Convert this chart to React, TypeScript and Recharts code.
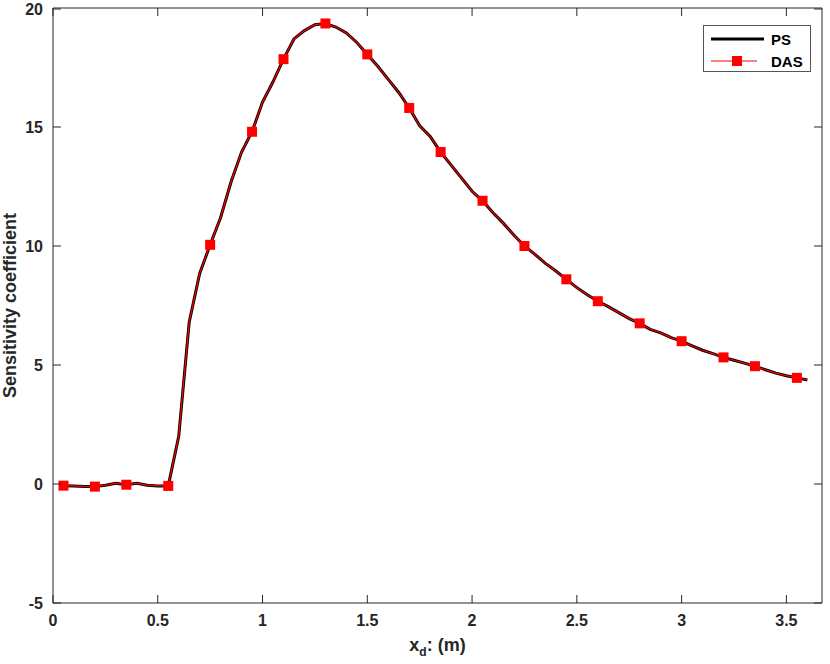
import { LineChart, Line, XAxis, YAxis, Legend } from 'recharts';

// x_d positions (m), sampled every 0.05
const XD = [
  0.05, 0.1, 0.15, 0.2, 0.25, 0.3, 0.35, 0.4, 0.45, 0.5,
  0.55, 0.6, 0.65, 0.7, 0.75, 0.8, 0.85, 0.9, 0.95, 1.0,
  1.05, 1.1, 1.15, 1.2, 1.25, 1.3, 1.35, 1.4, 1.45, 1.5,
  1.55, 1.6, 1.65, 1.7, 1.75, 1.8, 1.85, 1.9, 1.95, 2.0,
  2.05, 2.1, 2.15, 2.2, 2.25, 2.3, 2.35, 2.4, 2.45, 2.5,
  2.55, 2.6, 2.65, 2.7, 2.75, 2.8, 2.85, 2.9, 2.95, 3.0,
  3.05, 3.1, 3.15, 3.2, 3.25, 3.3, 3.35, 3.4, 3.45, 3.5,
  3.55, 3.6,
];

const PS = [
  -0.07, -0.08, -0.1, -0.11, -0.05, 0.03, -0.03, 0.03, -0.05, -0.08,
  -0.08, 2.0, 6.8, 8.85, 10.05, 11.2, 12.7, 13.95, 14.8, 16.05,
  16.9, 17.85, 18.7, 19.05, 19.3, 19.35, 19.2, 18.95, 18.55, 18.05,
  17.55, 17.0, 16.45, 15.8, 15.05, 14.6, 13.95, 13.4, 12.85, 12.3,
  11.9, 11.4, 10.95, 10.45, 10.0, 9.65, 9.27, 8.95, 8.6, 8.25,
  7.95, 7.68, 7.45, 7.2, 6.95, 6.75, 6.5, 6.35, 6.15, 6.0,
  5.8, 5.62, 5.48, 5.32, 5.2, 5.08, 4.95, 4.8, 4.66, 4.55,
  4.46, 4.37,
];

// DAS overlaps PS everywhere on the plot
const DAS = [...PS];

// where DAS shows its square markers
const DAS_MARKS = [0.05, 0.2, 0.35, 0.55, 0.75, 0.95, 1.1, 1.3, 1.5, 1.7, 1.85, 2.05, 2.25, 2.45, 2.6, 2.8, 3.0, 3.2, 3.35, 3.55];

const X_TICKS = [0, 0.5, 1, 1.5, 2, 2.5, 3, 3.5];
const Y_TICKS = [-5, 0, 5, 10, 15, 20];

const data = XD.map((x, i) => ({ x, ps: PS[i], das: DAS[i] }));

const FONT = '"Liberation Sans", Arial, sans-serif';
const INK = '#262626';
const TICK_LEN = 8;
const X_GAP = 12;
const Y_GAP = 10;

// MATLAB style: tick marks point into the plot box
function BottomTick(props: any) {
  const { x, y, payload } = props;
  const axisY = y - X_GAP;
  return (
    <g>
      <line x1={x} y1={axisY} x2={x} y2={axisY - TICK_LEN} stroke={INK} />
      <text x={x} y={y} dy="0.71em" textAnchor="middle" style={{ fill: INK, fontSize: 16, fontWeight: 700, fontFamily: FONT }}>
        {payload.value}
      </text>
    </g>
  );
}

function TopTick(props: any) {
  const { x, y } = props;
  const axisY = y + X_GAP;
  return <line x1={x} y1={axisY} x2={x} y2={axisY + TICK_LEN} stroke={INK} />;
}

function LeftTick(props: any) {
  const { x, y, payload } = props;
  const axisX = x + Y_GAP;
  return (
    <g>
      <line x1={axisX} y1={y} x2={axisX + TICK_LEN} y2={y} stroke={INK} />
      <text x={x} y={y} dy="0.36em" textAnchor="end" style={{ fill: INK, fontSize: 16, fontWeight: 700, fontFamily: FONT }}>
        {payload.value}
      </text>
    </g>
  );
}

function RightTick(props: any) {
  const { x, y } = props;
  const axisX = x - Y_GAP;
  return <line x1={axisX} y1={y} x2={axisX - TICK_LEN} y2={y} stroke={INK} />;
}

function SquareDot(props: any) {
  const { cx, cy, payload, index } = props;
  const hit = DAS_MARKS.some((m) => Math.abs(m - payload.x) < 1e-6);
  if (!hit || cx == null) return <g key={`d${index}`} />;
  return <rect key={`d${index}`} x={cx - 5} y={cy - 5} width={10} height={10} fill="#ff0000" />;
}

function YTitle(props: any) {
  const { viewBox } = props;
  const cx = 10;
  const cy = viewBox.y + viewBox.height / 2;
  return (
    <text
      x={cx}
      y={cy}
      transform={`rotate(-90 ${cx} ${cy})`}
      textAnchor="middle"
      dominantBaseline="central"
      style={{ fill: INK, fontSize: 18, fontWeight: 700, fontFamily: FONT }}
    >
      Sensitivity coefficient
    </text>
  );
}

function XTitle(props: any) {
  const { viewBox } = props;
  const cx = viewBox.x + viewBox.width / 2;
  return (
    <text x={cx} y={651} textAnchor="middle" style={{ fill: INK, fontSize: 18, fontWeight: 700, fontFamily: FONT }}>
      x<tspan dy={5} fontSize={12}>d</tspan>
      <tspan dy={-5}>: (m)</tspan>
    </text>
  );
}

function LegendBox() {
  const row = { display: 'flex', alignItems: 'center', height: 22 };
  const label = { fontSize: 15, fontWeight: 700, color: '#000', fontFamily: FONT, marginLeft: 7 };
  return (
    <div style={{ border: '1px solid #555', background: '#fff', width: 108, height: 47, boxSizing: 'border-box', padding: '2px 0 0 7px' }}>
      <div style={row}>
        <svg width={53} height={10}>
          <line x1={0} y1={5} x2={53} y2={5} stroke="#000" strokeWidth={3} />
        </svg>
        <span style={label}>PS</span>
      </div>
      <div style={row}>
        <svg width={53} height={12}>
          <line x1={0} y1={6} x2={46} y2={6} stroke="#ff0000" strokeWidth={1.2} />
          <rect x={21} y={1} width={10} height={10} fill="#ff0000" />
        </svg>
        <span style={label}>DAS</span>
      </div>
    </div>
  );
}

export default function App() {
  return (
    <div style={{ position: 'absolute', left: 0, top: 0, width: 830, height: 664, background: '#fff' }}>
      <LineChart width={830} height={664} data={data} margin={{ top: 7, right: 7, bottom: 0, left: 0 }}>
        <XAxis
          dataKey="x"
          type="number"
          domain={[0, 3.67]}
          allowDataOverflow
          ticks={X_TICKS}
          height={61}
          tickSize={0}
          tickMargin={X_GAP}
          tickLine={false}
          tick={<BottomTick />}
          axisLine={{ stroke: INK }}
          label={<XTitle />}
        />
        <XAxis
          xAxisId="top"
          orientation="top"
          dataKey="x"
          type="number"
          domain={[0, 3.67]}
          allowDataOverflow
          ticks={X_TICKS}
          height={1}
          tickSize={0}
          tickMargin={X_GAP}
          tickLine={false}
          tick={<TopTick />}
          axisLine={{ stroke: INK }}
        />
        <YAxis
          type="number"
          domain={[-5, 20]}
          allowDataOverflow
          ticks={Y_TICKS}
          width={53}
          tickSize={0}
          tickMargin={Y_GAP}
          tickLine={false}
          tick={<LeftTick />}
          axisLine={{ stroke: INK }}
          label={<YTitle />}
        />
        <YAxis
          yAxisId="right"
          orientation="right"
          type="number"
          domain={[-5, 20]}
          allowDataOverflow
          ticks={Y_TICKS}
          width={1}
          tickSize={0}
          tickMargin={Y_GAP}
          tickLine={false}
          tick={<RightTick />}
          axisLine={{ stroke: INK }}
        />
        <Legend
          layout="horizontal"
          verticalAlign="middle"
          align="center"
          content={<LegendBox />}
          wrapperStyle={{ top: 25, left: 703, width: 108, height: 47 }}
        />
        <Line dataKey="ps" name="PS" stroke="#000000" strokeWidth={3} dot={false} isAnimationActive={false} />
        <Line
          dataKey="das"
          name="DAS"
          stroke="#ff0000"
          strokeWidth={1.2}
          dot={<SquareDot />}
          activeDot={false}
          isAnimationActive={false}
        />
      </LineChart>
    </div>
  );
}
